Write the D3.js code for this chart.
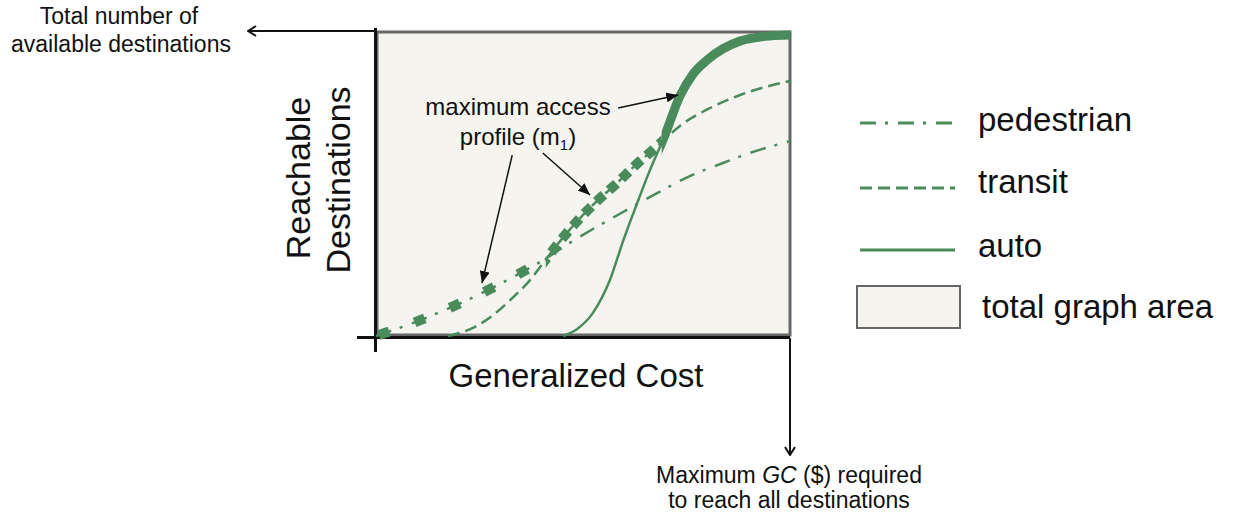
<!DOCTYPE html>
<html>
<head>
<meta charset="utf-8">
<script src="https://cdn.jsdelivr.net/npm/d3@7"></script>
<style>
  body { margin: 0; background: #fff; }
  svg text { font-family: "Liberation Sans", Arial, sans-serif; fill: #111; }
</style>
</head>
<body>
<svg id="chart" width="1234" height="516"></svg>
<script>
// curves: [generalized cost %, reachable destinations %]
const pedestrianPts = [[0, 0], [8.2, 3.9], [16.7, 8.6], [25.1, 13.8], [33.1, 19.4], [40.8, 25.3], [47.6, 31.3],
  [52.4, 35.2], [59.7, 40.8], [67.9, 47.0], [75.8, 52.6], [83.8, 56.9], [90.3, 60.2], [100, 64.1]];
const transitPts = [[17.4, 0], [23.9, 3.0], [28.3, 6.9], [32.4, 11.8], [37.2, 18.4], [41.3, 25.7], [46.1, 33.9],
  [52.4, 43.1], [58.2, 50.3], [63.0, 56.6], [66.9, 61.2], [69.8, 64.8], [73.4, 69.1], [80.7, 75.0], [88.6, 79.6], [100, 83.9]];
const autoPts = [[45.2, 0], [48.6, 2.3], [52.4, 7.6], [56.5, 18.4], [59.7, 31.3], [63.0, 43.4], [65.7, 53.0],
  [69.8, 66.1], [73.4, 78.9], [76.6, 86.2], [80.0, 90.8], [87.9, 97.0], [95.2, 98.7], [100, 99.0]];

// where the maximum access profile switches mode (pedestrian -> transit -> auto)
const profileBreaks = [0, 41, 69, 100];

const legendLabels = ['pedestrian', 'transit', 'auto', 'total graph area'];

// annotation arrows for the "maximum access profile" label, in data units
const profileArrows = [
  { from: [58.5, 75.0], to: [73.0, 79.3] },
  { from: [32.9, 59.5], to: [25.6, 17.4] },
  { from: [40.3, 60.2], to: [51.7, 46.4] }
];

class AccessProfileChart {
  constructor(_config, _data) {
    this.config = {
      parentElement: _config.parentElement,
      green: '#4a8b5c',
      boxFill: '#f5f4ef'
    };
    this.data = _data;
    this.initVis();
  }

  initVis() {
    let vis = this;
    vis.svg = d3.select(vis.config.parentElement);

    vis.x = d3.scaleLinear().domain([0, 100]).range([376, 790]);
    vis.y = d3.scaleLinear().domain([0, 100]).range([336, 32]);

    vis.line = d3.line()
      .x(d => vis.x(d[0]))
      .y(d => vis.y(d[1]))
      .curve(d3.curveMonotoneX);

    const defs = vis.svg.append('defs');
    defs.append('marker')
      .attr('id', 'tri')
      .attr('viewBox', '0 0 12 10')
      .attr('refX', 12).attr('refY', 5)
      .attr('markerWidth', 12).attr('markerHeight', 10)
      .attr('markerUnits', 'userSpaceOnUse')
      .attr('orient', 'auto')
      .append('path').attr('d', 'M0,0 L12,5 L0,10 Z').attr('fill', '#111');
    defs.append('marker')
      .attr('id', 'chev')
      .attr('viewBox', '0 0 10 12')
      .attr('refX', 9).attr('refY', 6)
      .attr('markerWidth', 10).attr('markerHeight', 12)
      .attr('markerUnits', 'userSpaceOnUse')
      .attr('orient', 'auto')
      .append('path').attr('d', 'M1,1 L9,6 L1,11')
      .attr('fill', 'none').attr('stroke', '#111').attr('stroke-width', 2);

    // clip regions for each segment of the maximum profile
    for (let i = 0; i < 3; i++) {
      const pad0 = i === 0 ? 6 : 0;
      const pad1 = i === 2 ? 6 : 0;
      defs.append('clipPath').attr('id', 'seg' + i)
        .append('rect')
        .attr('x', vis.x(profileBreaks[i]) - pad0)
        .attr('width', vis.x(profileBreaks[i + 1]) - vis.x(profileBreaks[i]) + pad0 + pad1)
        .attr('y', 0).attr('height', 360);
    }

    // graph area box
    vis.svg.append('rect')
      .attr('x', vis.x(0) + 1).attr('y', vis.y(100))
      .attr('width', vis.x(100) - vis.x(0) - 1).attr('height', vis.y(0) - vis.y(100) - 1)
      .attr('fill', vis.config.boxFill)
      .attr('stroke', '#666').attr('stroke-width', 3);

    // axes
    vis.svg.append('line')
      .attr('x1', 375.5).attr('x2', 375.5).attr('y1', 28).attr('y2', 352)
      .attr('stroke', '#111').attr('stroke-width', 3);
    vis.svg.append('line')
      .attr('x1', 357).attr('x2', vis.x(100)).attr('y1', 337.5).attr('y2', 337.5)
      .attr('stroke', '#111').attr('stroke-width', 3);

    // arrows off the axes
    vis.svg.append('line')
      .attr('x1', 377).attr('x2', 248).attr('y1', 31).attr('y2', 31)
      .attr('stroke', '#111').attr('stroke-width', 2)
      .attr('marker-end', 'url(#chev)');
    vis.svg.append('line')
      .attr('x1', vis.x(100)).attr('x2', vis.x(100)).attr('y1', 338).attr('y2', 455)
      .attr('stroke', '#111').attr('stroke-width', 2)
      .attr('marker-end', 'url(#chev)');

    // axis titles
    vis.svg.append('text').attr('x', 576).attr('y', 387)
      .attr('text-anchor', 'middle').attr('font-size', 33).text('Generalized Cost');
    vis.svg.append('text').attr('transform', 'translate(310,178) rotate(-90)')
      .attr('text-anchor', 'middle').attr('font-size', 34).text('Reachable');
    vis.svg.append('text').attr('transform', 'translate(350,180) rotate(-90)')
      .attr('text-anchor', 'middle').attr('font-size', 34).text('Destinations');

    // side notes
    vis.svg.append('text').attr('x', 119).attr('y', 24)
      .attr('text-anchor', 'middle').attr('font-size', 23).text('Total number of');
    vis.svg.append('text').attr('x', 121).attr('y', 52)
      .attr('text-anchor', 'middle').attr('font-size', 23).text('available destinations');

    const gc = vis.svg.append('text').attr('x', 789).attr('y', 483)
      .attr('text-anchor', 'middle').attr('font-size', 23);
    gc.append('tspan').text('Maximum ');
    gc.append('tspan').attr('font-style', 'italic').text('GC');
    gc.append('tspan').text(' ($) required');
    vis.svg.append('text').attr('x', 789).attr('y', 508)
      .attr('text-anchor', 'middle').attr('font-size', 23).text('to reach all destinations');

    vis.renderVis();
  }

  renderVis() {
    let vis = this;
    const g = vis.config.green;

    // thin mode curves
    vis.svg.append('path').datum(vis.data.pedestrian)
      .attr('d', vis.line).attr('fill', 'none')
      .attr('stroke', g).attr('stroke-width', 2.5)
      .attr('stroke-dasharray', '16,9,3,10');
    vis.svg.append('path').datum(vis.data.transit)
      .attr('d', vis.line).attr('fill', 'none')
      .attr('stroke', g).attr('stroke-width', 2.5)
      .attr('stroke-dasharray', '12,6');
    vis.svg.append('path').datum(vis.data.auto)
      .attr('d', vis.line).attr('fill', 'none')
      .attr('stroke', g).attr('stroke-width', 2.5);

    // maximum access profile (thick), one clipped piece per mode
    vis.svg.append('path').datum(vis.data.pedestrian)
      .attr('d', vis.line).attr('fill', 'none')
      .attr('clip-path', 'url(#seg0)')
      .attr('stroke', g).attr('stroke-width', 10)
      .attr('stroke-dasharray', '11,27').attr('stroke-dashoffset', -3);
    vis.svg.append('path').datum(vis.data.transit)
      .attr('d', vis.line).attr('fill', 'none')
      .attr('clip-path', 'url(#seg1)')
      .attr('stroke', g).attr('stroke-width', 10)
      .attr('stroke-dasharray', '10,7');
    vis.svg.append('path').datum(vis.data.auto)
      .attr('d', vis.line).attr('fill', 'none')
      .attr('clip-path', 'url(#seg2)')
      .attr('stroke', g).attr('stroke-width', 9);

    // "maximum access profile" label + arrows
    vis.svg.append('text').attr('x', 518).attr('y', 115)
      .attr('text-anchor', 'middle').attr('font-size', 24).text('maximum access');
    const prof = vis.svg.append('text').attr('x', 518).attr('y', 145)
      .attr('text-anchor', 'middle').attr('font-size', 24);
    prof.append('tspan').text('profile (m');
    prof.append('tspan').attr('font-size', 15).attr('dy', 5).text('1');
    prof.append('tspan').attr('dy', -5).text(')');

    vis.svg.selectAll('.ann')
      .data(profileArrows)
      .join('line')
      .attr('class', 'ann')
      .attr('x1', d => vis.x(d.from[0])).attr('y1', d => vis.y(d.from[1]))
      .attr('x2', d => vis.x(d.to[0])).attr('y2', d => vis.y(d.to[1]))
      .attr('stroke', '#111').attr('stroke-width', 1.5)
      .attr('marker-end', 'url(#tri)');

    // legend
    const legendY = [123, 188, 250];
    const dashes = ['16,9,3,10', '12,6', null];
    const baselines = [131, 193, 257];
    legendY.forEach((ly, i) => {
      vis.svg.append('line')
        .attr('x1', 860).attr('x2', 955).attr('y1', ly).attr('y2', ly)
        .attr('stroke', g).attr('stroke-width', 3)
        .attr('stroke-dasharray', dashes[i]);
      vis.svg.append('text').attr('x', 978).attr('y', baselines[i])
        .attr('font-size', 33).text(legendLabels[i]);
    });
    vis.svg.append('rect')
      .attr('x', 857).attr('y', 286).attr('width', 103).attr('height', 42)
      .attr('fill', vis.config.boxFill).attr('stroke', '#666').attr('stroke-width', 2);
    vis.svg.append('text').attr('x', 982).attr('y', 318)
      .attr('font-size', 33).text(legendLabels[3]);
  }
}

new AccessProfileChart({ parentElement: '#chart' },
  { pedestrian: pedestrianPts, transit: transitPts, auto: autoPts });
</script>
</body>
</html>
